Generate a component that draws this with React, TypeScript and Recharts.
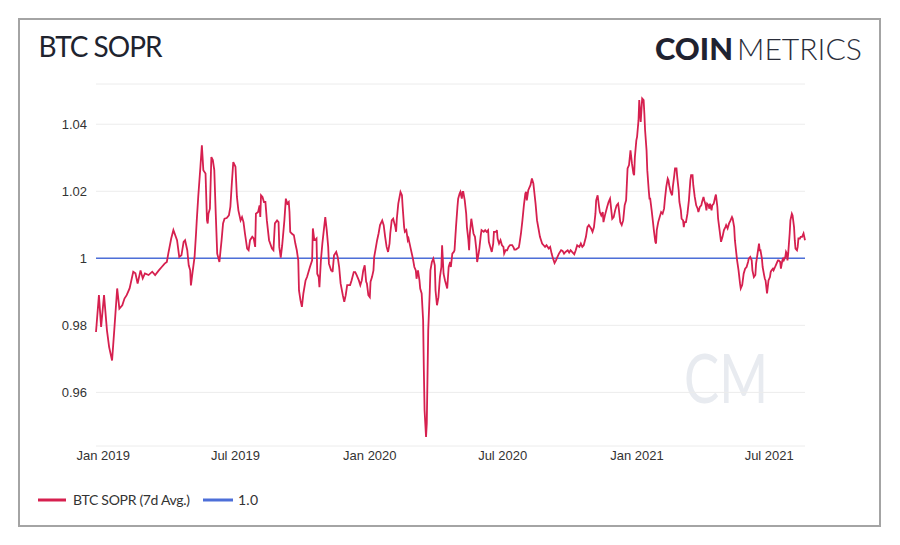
import { LineChart, Line, XAxis, YAxis, CartesianGrid, ReferenceLine } from 'recharts';

// day offset from 2019-01-01, 7d avg SOPR
const sopr2019: [number, number][] = [
  [-10, 0.978], [-6, 0.989], [-3, 0.9795], [1, 0.989], [5, 0.9785], [8, 0.9735], [12, 0.9695], [15, 0.9785],
  [19, 0.991], [22, 0.985], [26, 0.986], [29, 0.988], [32, 0.989], [36, 0.991], [41, 0.996], [44, 0.9955],
  [47, 0.9925], [51, 0.9964], [54, 0.994], [57, 0.9955], [62, 0.995], [67, 0.996], [71, 0.995], [76, 0.9964],
  [80, 0.9974], [84, 0.9984], [87, 0.9989], [89, 1.0014], [93, 1.0059], [96, 1.0084], [101, 1.0054], [104, 1.0004],
  [107, 1.0009], [110, 1.0049], [112, 1.0054], [115, 1.0024], [117, 0.9979], [119, 0.9964], [120, 0.9919], [122, 0.9954],
  [125, 1.0004], [127, 1.0074], [128, 1.0113], [130, 1.0183], [133, 1.0273], [135, 1.0337], [137, 1.0263], [140, 1.0253],
  [142, 1.0113], [143, 1.0104], [144, 1.0133], [146, 1.0148], [148, 1.0302], [150, 1.0293], [152, 1.0263], [154, 1.0133],
  [156, 1.0014], [159, 0.9989], [162, 1.0054], [164, 1.0104], [166, 1.0118], [169, 1.012], [172, 1.0128], [174, 1.0153],
  [176, 1.0223], [178, 1.0287], [181, 1.0273], [183, 1.0183], [185, 1.0143], [188, 1.0113], [190, 1.0123], [192, 1.0108],
  [194, 1.0074], [197, 1.0029], [199, 1.0024], [201, 1.0054], [204, 1.0064], [206, 1.0059], [208, 1.0034], [209, 1.0133],
  [212, 1.0138], [214, 1.0158], [215, 1.0123], [216, 1.0188], [218, 1.0183], [220, 1.0168], [222, 1.0168], [224, 1.0113],
  [227, 1.0054], [231, 1.0029], [233, 1.0024], [235, 1.0104], [238, 1.0113], [240, 1.0108], [241, 1.0034], [243, 1.0002],
  [245, 1.0039], [248, 1.0113], [250, 1.0178], [252, 1.0163], [254, 1.0168], [255, 1.0138], [256, 1.0079], [258, 1.0074],
  [261, 1.0069], [263, 1.0044], [265, 1.0024], [267, 0.9994], [268, 0.9904], [270, 0.9875], [272, 0.9855], [274, 0.9895],
  [277, 0.9934], [279, 0.9944], [281, 0.9959], [283, 0.9974], [286, 0.9994], [287, 1.0089], [289, 1.0054], [290, 1.0054],
  [292, 1.0059], [293, 0.9954], [295, 0.9944], [296, 0.9914], [298, 0.9994], [300, 1.0044], [302, 1.0084], [304, 1.0123],
  [306, 1.0084], [308, 1.0034], [309, 0.9984], [312, 0.9964], [313, 0.9964], [314, 0.9959], [316, 1.0009], [319, 1.0019],
  [321, 1.0004], [323, 0.9974], [325, 0.9925], [328, 0.989], [330, 0.987], [332, 0.989], [334, 0.992], [336, 0.992],
  [338, 0.992], [340, 0.9934], [343, 0.9959], [345, 0.9959], [347, 0.995], [350, 0.9934], [352, 0.992], [354, 0.9934],
  [356, 0.9964], [358, 0.9979], [360, 0.993], [361, 0.9925], [363, 0.989],
];

const sopr2020: [number, number][] = [
  [365, 0.9884], [366, 0.993], [368, 0.9944], [370, 0.9964], [371, 1.0004], [373, 1.0029], [375, 1.0054], [377, 1.0074],
  [379, 1.0099], [382, 1.0113], [384, 1.0099], [386, 1.0064], [388, 1.0034], [390, 1.0019], [392, 1.0044], [393, 1.0074],
  [395, 1.0113], [397, 1.0118], [400, 1.0093], [401, 1.0079], [402, 1.0118], [404, 1.0163], [407, 1.0198], [409, 1.0188],
  [410, 1.0153], [412, 1.0093], [413, 1.0079], [415, 1.0084], [417, 1.0054], [418, 1.0059], [419, 1.0049], [421, 1.0029],
  [423, 1.0009], [424, 0.9999], [426, 0.9974], [428, 0.9964], [429, 0.9939], [431, 0.9964], [433, 0.9934], [434, 0.991],
  [436, 0.9895], [438, 0.9815], [439, 0.9666], [440, 0.9546], [442, 0.9467], [443, 0.9507], [444, 0.9646], [445, 0.9785],
  [447, 0.9895], [448, 0.9964], [450, 0.9989], [452, 0.9999], [454, 0.9979], [455, 0.9904], [457, 0.986], [459, 0.9884],
  [461, 0.9944], [463, 0.9974], [464, 1.0039], [466, 0.9954], [468, 0.9934], [471, 0.991], [473, 0.9974], [475, 0.9989],
  [476, 0.9974], [478, 1.0014], [480, 1.0019], [481, 1.0024], [483, 1.0093], [485, 1.0153], [486, 1.0178], [488, 1.0193],
  [489, 1.0198], [491, 1.0178], [492, 1.0198], [493, 1.0198], [495, 1.0173], [497, 1.0133], [498, 1.0093], [500, 1.0054],
  [501, 1.0024], [502, 1.0074], [504, 1.0118], [505, 1.0104], [507, 1.0074], [509, 1.0064], [511, 1.0024], [512, 0.9989],
  [514, 1.0014], [515, 1.0029], [517, 1.0069], [518, 1.0084], [521, 1.0079], [523, 1.0084], [525, 1.0079], [527, 1.0084],
  [528, 1.0049], [530, 1.0034], [532, 1.0019], [534, 1.0044], [535, 1.0079], [538, 1.0079], [539, 1.0084], [540, 1.0059],
  [542, 1.0044], [544, 1.0054], [546, 1.0039], [548, 1.0034], [549, 1.0014], [551, 1.0024], [553, 1.0024], [555, 1.0034],
  [557, 1.0039], [560, 1.0039], [562, 1.0032], [563, 1.0026], [565, 1.0026], [567, 1.0029], [569, 1.0032], [570, 1.0044],
  [572, 1.0074], [574, 1.0113], [576, 1.0158], [578, 1.0193], [579, 1.0198], [580, 1.0173], [582, 1.0203], [585, 1.0218],
  [587, 1.0238], [589, 1.0223], [590, 1.0203], [592, 1.0163], [594, 1.0113], [596, 1.0089], [598, 1.0064], [601, 1.0044],
  [603, 1.0039], [605, 1.0034], [607, 1.0039], [610, 1.0029], [612, 1.0034], [614, 1.0014], [616, 0.9999], [618, 0.9986],
  [620, 0.9994], [622, 1.0004], [624, 1.0014], [627, 1.0024], [629, 1.0022], [631, 1.0014], [633, 1.0019], [636, 1.0024],
  [638, 1.0017], [640, 1.0024], [642, 1.0019], [645, 1.0012], [647, 1.0024], [649, 1.0039], [652, 1.0034], [654, 1.0044],
  [656, 1.0034], [658, 1.0039], [661, 1.0064], [663, 1.0093], [665, 1.0099], [668, 1.0089], [670, 1.0079], [672, 1.0093],
  [674, 1.0133], [675, 1.0173], [677, 1.0188], [679, 1.0153], [680, 1.0138], [682, 1.0128], [684, 1.0138], [685, 1.0108],
  [687, 1.0128], [690, 1.0153], [692, 1.0168], [694, 1.0178], [695, 1.0158], [697, 1.0118], [699, 1.0123], [701, 1.0143],
  [703, 1.0158], [705, 1.0163], [706, 1.0148], [708, 1.0108], [710, 1.0099], [712, 1.0113], [714, 1.0158], [716, 1.0173],
  [718, 1.0268], [720, 1.0278], [722, 1.0322], [724, 1.0283], [726, 1.0253], [727, 1.0248], [728, 1.0302], [730, 1.0352],
];

const sopr2021: [number, number][] = [
  [731, 1.0362], [733, 1.0412], [734, 1.0472], [736, 1.0407], [737, 1.0442], [738, 1.0477], [740, 1.0472], [741, 1.0432],
  [742, 1.0382], [744, 1.0322], [745, 1.0263], [747, 1.0203], [748, 1.0178], [749, 1.0178], [751, 1.0143], [753, 1.0104],
  [754, 1.0084], [756, 1.0049], [757, 1.0044], [758, 1.0084], [760, 1.0108], [762, 1.0123], [764, 1.0138], [766, 1.0133],
  [768, 1.0148], [769, 1.0173], [771, 1.0213], [773, 1.0238], [774, 1.0233], [775, 1.0218], [777, 1.0198], [779, 1.0188],
  [780, 1.0213], [782, 1.0248], [783, 1.0268], [785, 1.0268], [786, 1.0243], [788, 1.0203], [789, 1.0168], [791, 1.0143],
  [792, 1.0118], [794, 1.0113], [795, 1.0093], [796, 1.0108], [798, 1.0108], [800, 1.0133], [802, 1.0173], [804, 1.0233],
  [805, 1.0248], [807, 1.0248], [808, 1.0218], [810, 1.0183], [812, 1.0158], [814, 1.0148], [815, 1.0138], [817, 1.0153],
  [819, 1.0158], [820, 1.0168], [822, 1.0183], [823, 1.0173], [825, 1.0158], [826, 1.0143], [827, 1.0163], [829, 1.0158],
  [830, 1.0148], [831, 1.0163], [833, 1.0143], [834, 1.0158], [836, 1.0163], [838, 1.0183], [839, 1.019], [841, 1.0153],
  [842, 1.0118], [844, 1.0084], [846, 1.0049], [848, 1.0064], [850, 1.0084], [852, 1.0093], [853, 1.0099], [855, 1.0089],
  [857, 1.0104], [859, 1.0113], [861, 1.0123], [862, 1.0118], [864, 1.0093], [865, 1.0054], [867, 1.0014], [868, 0.9994],
  [870, 0.9964], [872, 0.9925], [873, 0.991], [875, 0.992], [877, 0.9954], [879, 0.9969], [881, 0.9974], [883, 0.9989],
  [884, 0.9999], [886, 1.0004], [888, 0.9994], [889, 0.9964], [891, 0.9944], [893, 0.995], [894, 0.9984], [896, 1.0014],
  [898, 1.0044], [899, 1.0024], [900, 1.0024], [902, 0.9999], [903, 0.9974], [905, 0.995], [906, 0.9939], [907, 0.9934],
  [909, 0.9895], [910, 0.9914], [911, 0.9934], [913, 0.9944], [914, 0.9959], [915, 0.9964], [917, 0.9969], [918, 0.9964],
  [920, 0.9974], [921, 0.9979], [923, 0.9989], [924, 0.9994], [925, 0.9994], [927, 0.9989], [928, 0.9969], [930, 0.9994],
  [931, 0.9999], [932, 0.9994], [934, 1.0004], [935, 1.0019], [936, 1.0014], [937, 0.9994], [938, 1.0014], [940, 1.0074],
  [941, 1.0113], [943, 1.0133], [944, 1.0128], [946, 1.0093], [947, 1.0054], [948, 1.0029], [950, 1.0024], [951, 1.0034],
  [952, 1.0059], [954, 1.0059], [955, 1.0064], [957, 1.0064], [958, 1.0069], [959, 1.0074], [961, 1.0054],
];

const tickDays = [0, 181, 365, 547, 731, 912];
const tickLabels = ['Jan 2019', 'Jul 2019', 'Jan 2020', 'Jul 2020', 'Jan 2021', 'Jul 2021'];
const yTicks = [0.96, 0.98, 1, 1.02, 1.04];

const RED = '#d6204f';
const BLUE = '#4d6fd8';
const tickFont = { fill: '#333', fontSize: 13, fontFamily: '"Liberation Sans", Arial, sans-serif' };

export default function App() {
  const chartData = [...sopr2019, ...sopr2020, ...sopr2021].map(([day, value]) => ({ day, value }));

  return (
    <div style={{ position: 'relative', margin: -8, width: 900, height: 545, background: '#fff' }}>
      <div
        style={{
          position: 'absolute', left: 18, top: 18, width: 863, height: 509,
          border: '2px solid #a4a4a4', boxSizing: 'border-box',
        }}
      />
      <svg width={900} height={545} style={{ position: 'absolute', left: 0, top: 0 }}>
        <text x={38.5} y={57} fontFamily="Lato, sans-serif" fontSize={28} fill="#20232e" textLength={124}>
          BTC SOPR
        </text>
        <text x={655} y={60} fontFamily="Lato, sans-serif" fontWeight={900} fontSize={30} fill="#1f2230" textLength={78} lengthAdjust="spacingAndGlyphs">
          COIN
        </text>
        <text x={737} y={60} fontFamily="Lato, sans-serif" fontWeight={300} fontSize={30} fill="#2a2d3a" textLength={125} lengthAdjust="spacingAndGlyphs">
          METRICS
        </text>
        {/* watermark */}
        <text x={684} y={403} fontFamily="Lato, sans-serif" fontWeight={400} fontSize={68} fill="#e8ebf0" textLength={84} lengthAdjust="spacingAndGlyphs">
          CM
        </text>
        <line x1={38} x2={66} y1={500} y2={500} stroke={RED} strokeWidth={3} />
        <text x={73} y={504.5} fontFamily="Lato, sans-serif" fontSize={14} fill="#333" textLength={117}>
          BTC SOPR (7d Avg.)
        </text>
        <line x1={203} x2={233} y1={500} y2={500} stroke={BLUE} strokeWidth={3} />
        <text x={238} y={504.5} fontFamily="Lato, sans-serif" fontSize={14} fill="#333" textLength={20}>
          1.0
        </text>
      </svg>
      <div style={{ position: 'absolute', left: 0, top: 0 }}>
        <LineChart width={900} height={545} data={chartData} margin={{ top: 84, right: 95, bottom: 69, left: 0 }}>
          <CartesianGrid vertical={false} stroke="#ececec" />
          <XAxis
            type="number"
            dataKey="day"
            domain={['dataMin', 'dataMax']}
            ticks={tickDays}
            tickFormatter={(d: number) => tickLabels[tickDays.indexOf(d)]}
            axisLine={false}
            tickLine={false}
            tickSize={0}
            tickMargin={5}
            height={30}
            tick={tickFont}
          />
          <YAxis
            type="number"
            domain={[0.944, 1.052]}
            allowDataOverflow
            ticks={yTicks}
            tickFormatter={(v: number) => (v === 1 ? '1' : v.toFixed(2))}
            axisLine={false}
            tickLine={false}
            tickSize={0}
            tickMargin={9}
            width={96}
            tick={tickFont}
          />
          <ReferenceLine y={1} stroke={BLUE} strokeWidth={1.6} />
          <Line
            type="linear"
            dataKey="value"
            stroke={RED}
            strokeWidth={1.8}
            dot={false}
            isAnimationActive={false}
          />
        </LineChart>
      </div>
    </div>
  );
}
